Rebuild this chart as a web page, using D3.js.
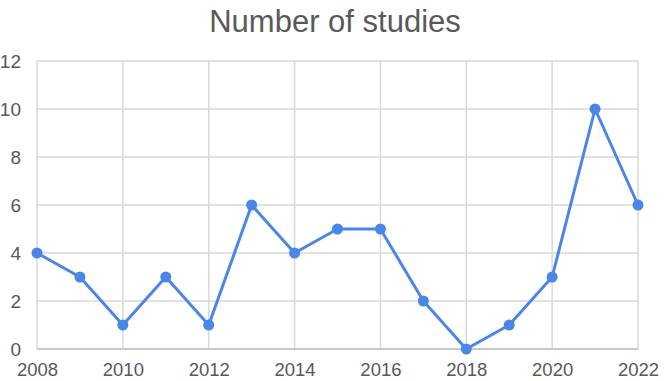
<!DOCTYPE html>
<html><head><meta charset="utf-8">
<script src="https://cdn.jsdelivr.net/npm/d3@7"></script>
<style>body{margin:0;background:#fff}svg{display:block}text{font-family:"Liberation Sans",Arial,sans-serif}</style>
</head><body>
<script>
const years = [2008,2009,2010,2011,2012,2013,2014,2015,2016,2017,2018,2019,2020,2021,2022];
const studies = [4,3,1,3,1,6,4,5,5,2,0,1,3,10,6];
const yTicks = [0,2,4,6,8,10,12];
const xTicks = [2008,2010,2012,2014,2016,2018,2020,2022];
const title = "Number of studies";

const W=664,H=381;
const m={l:37,r:26,t:61,b:32};
const svg=d3.select("body").append("svg").attr("width",W).attr("height",H);
const x=d3.scaleLinear().domain([2008,2022]).range([m.l,W-m.r]);
const y=d3.scaleLinear().domain([0,12]).range([H-m.b,m.t]);

const g=svg.append("g");
g.selectAll(".hg").data(yTicks.filter(d=>d>0)).enter().append("line")
 .attr("x1",x(2008)).attr("x2",x(2022)).attr("y1",d=>y(d)).attr("y2",d=>y(d))
 .attr("stroke","#d9d9d9").attr("stroke-width",1.5);
g.selectAll(".vg").data(xTicks).enter().append("line")
 .attr("x1",d=>x(d)).attr("x2",d=>x(d)).attr("y1",y(0)).attr("y2",y(12))
 .attr("stroke","#d9d9d9").attr("stroke-width",1.5);
g.append("line").attr("x1",x(2008)).attr("x2",x(2022)).attr("y1",y(0)).attr("y2",y(0))
 .attr("stroke","#c8c8c8").attr("stroke-width",2);

const xa=svg.append("g").attr("transform",`translate(0,${y(0)})`)
 .call(d3.axisBottom(x).tickValues(xTicks).tickFormat(d3.format("d")).tickSize(0).tickPadding(14));
xa.select(".domain").remove();
xa.selectAll("text").attr("font-size",18.5).attr("fill","#595959").style("font-family","'Liberation Sans',Arial,sans-serif");
const ya=svg.append("g").attr("transform",`translate(${m.l-16},0)`)
 .call(d3.axisLeft(y).tickValues(yTicks).tickSize(0).tickPadding(0));
ya.select(".domain").remove();
ya.selectAll("text").attr("font-size",19).attr("fill","#595959").style("font-family","'Liberation Sans',Arial,sans-serif");

const data=years.map((yr,i)=>({yr,v:studies[i]}));
svg.append("path").datum(data).attr("fill","none").attr("stroke","#4a86e8").attr("stroke-width",3)
 .attr("stroke-linejoin","round")
 .attr("d",d3.line().x(d=>x(d.yr)).y(d=>y(d.v)));
svg.selectAll(".pt").data(data).enter().append("circle")
 .attr("cx",d=>x(d.yr)).attr("cy",d=>y(d.v)).attr("r",5.5).attr("fill","#4a86e8");

svg.append("text").attr("x",335).attr("y",32).attr("text-anchor","middle")
 .attr("font-size",31).attr("fill","#595959").text(title);
</script>
</body></html>
